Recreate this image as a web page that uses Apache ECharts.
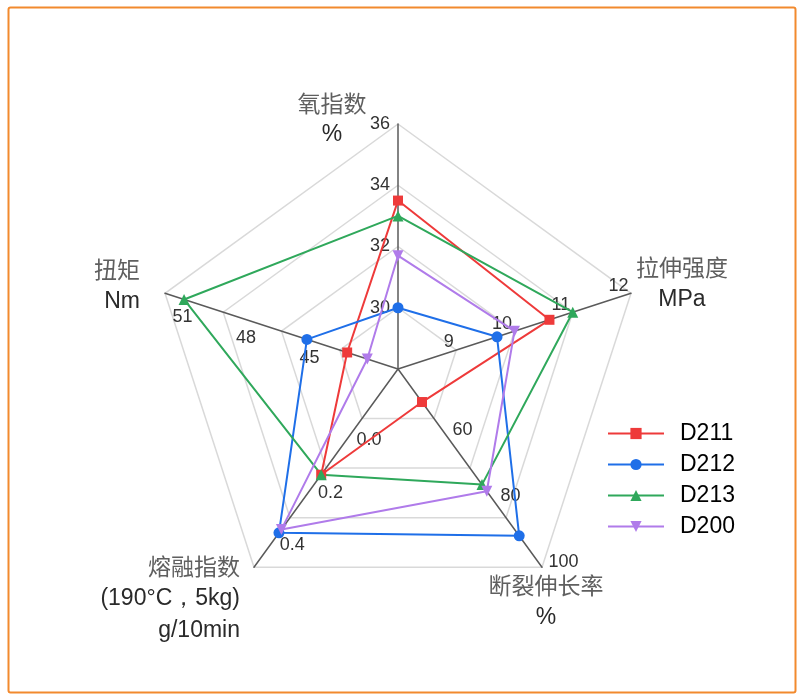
<!DOCTYPE html>
<html><head><meta charset="utf-8">
<script src="https://cdn.jsdelivr.net/npm/echarts@6/dist/echarts.min.js"></script>
<style>html,body{margin:0;padding:0;background:#fff}#c{width:799px;height:694px}</style>
</head><body><div id="c"></div>
<script>
// Indicators listed counter-clockwise starting from the top
const indicatorNames = ['氧指数', '扭矩', '熔融指数', '断裂伸长率', '拉伸强度'];
const indicatorUnits = ['%', 'Nm', '(190°C，5kg)\ng/10min', '%', 'MPa'];
const axisMin = [28, 41.5, -0.25, 40, 8];
const axisMax = [36, 52.5, 0.5, 100, 12];
const oxygenTicks = ['30', '32', '34', '36'];
const torqueTicks = ['45', '48', '51'];
const meltTicks = ['0.0', '0.2', '0.4'];
const elongationTicks = ['60', '80', '100'];
const tensileTicks = ['9', '10', '11', '12'];
const seriesNames = ['D211', 'D212', 'D213', 'D200'];
const d211 = [33.5, 43.9, 0.15, 50, 10.6];
const d212 = [30.0, 45.8, 0.37, 90.5, 9.7];
const d213 = [33.0, 51.6, 0.15, 75, 11.0];
const d200 = [31.7, 42.95, 0.357, 77, 10.0];

const colors = ['#EE3A3A', '#1F6FE8', '#2FA85B', '#B07BEA'];
const symbols = ['rect', 'circle', 'triangle', 'path://M0,0L10,0L5,9Z'];
const symbolSizes = [10, 11, 11, 11];
const values = [d211, d212, d213, d200];

function tickFormatter(ticks) {
  return function (v) {
    for (let k = 0; k < ticks.length; k++) {
      if (Math.abs(v - parseFloat(ticks[k])) < 1e-6) return ticks[k];
    }
    return '';
  };
}
// which radar (by split count) shows labels of which indicator
const labelSpec = [
  { radar: 0, ticks: oxygenTicks, margin: 8 },
  { radar: 3, ticks: torqueTicks, margin: 14 },
  { radar: 2, ticks: meltTicks, margin: 8 },
  { radar: 1, ticks: elongationTicks, margin: 8 },
  { radar: 0, ticks: tensileTicks, margin: 8 }
];
const nameLayout = [
  { align: 'center', verticalAlign: 'middle', padding: [0, 132, 10, 0] },
  { align: 'right', verticalAlign: 'middle', padding: [0, 25, 16, 0] },
  { align: 'right', verticalAlign: 'middle', padding: [62, 14, 0, 0] },
  { align: 'center', verticalAlign: 'middle', padding: [68, 0, 0, 8] },
  { align: 'center', verticalAlign: 'middle', padding: [0, 0, 20, 102] }
];

function indicators(radarIdx) {
  return indicatorNames.map(function (n, i) {
    const name = '{cn|' + n + '}' + indicatorUnits[i].split('\n').map(function (u) { return '\n{en|' + u + '}'; }).join('');
    return {
      name: name,
      min: axisMin[i],
      max: axisMax[i],
      nameMoveOverlap: false,
      nameTextStyle: nameLayout[i],
      axisLabel: labelSpec[i].radar === radarIdx
        ? { show: true, margin: labelSpec[i].margin, formatter: tickFormatter(labelSpec[i].ticks) }
        : { show: false }
    };
  });
}

const baseRadar = {
  center: [398, 369],
  radius: 245,
  startAngle: 90,
  shape: 'polygon',
  axisNameGap: 0,
  nameMoveOverlap: false,
  axisLabel: { show: true, color: '#333', fontSize: 18, fontFamily: 'Liberation Sans' },
  axisTick: { show: false },
  splitArea: { show: false }
};
const splits = [4, 3, 15, 22];
const radars = splits.map(function (s, r) {
  const o = Object.assign({}, baseRadar, {
    splitNumber: s,
    indicator: indicators(r),
    silent: true
  });
  if (r === 0) {
    o.axisLine = { show: true, lineStyle: { color: '#5a5a5a', width: 1.5 } };
    o.splitLine = { show: true, lineStyle: { color: '#d9d9d9', width: 1.5 } };
    o.axisName = {
      show: true,
      rich: {
        cn: { fontSize: 23, color: '#5f5f5f', fontFamily: 'Noto Sans CJK SC', lineHeight: 32 },
        en: { fontSize: 23, color: '#2a2a2a', fontFamily: 'Liberation Sans', lineHeight: 32 }
      }
    };
  } else {
    o.axisLine = { show: false };
    o.splitLine = { show: false };
    o.axisName = { show: false };
  }
  return o;
});

const series = [{
  type: 'radar',
  radarIndex: 0,
  z: 5,
  data: seriesNames.map(function (n, i) {
    return {
      name: n,
      value: values[i],
      symbol: symbols[i],
      symbolSize: symbolSizes[i],
      itemStyle: { color: colors[i] },
      lineStyle: { color: colors[i], width: 2 }
    };
  })
}];
// legend-only line series (no data) so the legend shows line + marker icons
seriesNames.forEach(function (n, i) {
  series.push({
    type: 'line', name: n, data: [], symbol: symbols[i], symbolSize: symbolSizes[i],
    itemStyle: { color: colors[i] }, lineStyle: { color: colors[i], width: 2 }
  });
});

const chart = echarts.init(document.getElementById('c'), null, { renderer: 'canvas' });
chart.setOption({
  animation: false,
  backgroundColor: '#fff',
  grid: { show: false, left: 0, top: 0, width: 1, height: 1 },
  xAxis: { show: false, type: 'value' },
  yAxis: { show: false, type: 'value' },
  radar: radars,
  legend: {
    orient: 'vertical', left: 607, top: 422, padding: 0,
    itemWidth: 56, itemHeight: 14, itemGap: 8,
    data: seriesNames,
    textStyle: { fontSize: 23, color: '#000', fontFamily: 'Liberation Sans', padding: [0, 0, 0, 11] }
  },
  graphic: [{
    type: 'rect', left: 6, top: 5, silent: true,
    shape: { width: 787, height: 685, r: 2 },
    style: { fill: null, stroke: '#F28A2E', lineWidth: 2 }
  }],
  series: series
});
</script></body></html>
